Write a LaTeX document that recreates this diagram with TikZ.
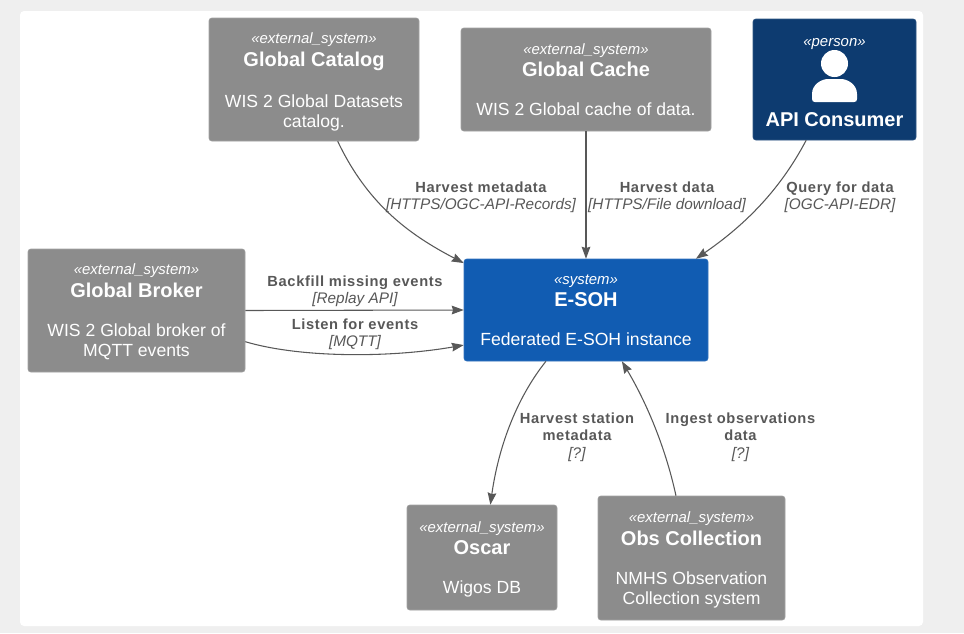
\documentclass[tikz,border=0pt]{standalone}
\usepackage{fontspec}
\setmainfont{Liberation Sans}
\usetikzlibrary{arrows.meta}

\definecolor{pagegray}{HTML}{EFEFEF}
\definecolor{extgray}{HTML}{8C8C8C}
\definecolor{sysblue}{HTML}{115CB2}
\definecolor{persblue}{HTML}{0D3B70}
\definecolor{relgray}{HTML}{585858}

\newcommand{\tagline}[2][0pt]{{\fontsize{11.2}{13}\selectfont\itshape\rule{0pt}{#1}«#2»}}
\newcommand{\boxtitle}[1]{{\fontsize{15}{17}\selectfont\bfseries #1}}
\newcommand{\boxdesc}[1]{{\fontsize{13.2}{15}\selectfont #1}}
\newcommand{\relname}[1]{{\fontsize{11}{13}\selectfont\bfseries\addfontfeature{LetterSpace=4.4} #1}}
\newcommand{\reltech}[1]{{\fontsize{11.5}{13}\selectfont\itshape [#1]}}

\tikzset{
  cbox/.style={rectangle, rounded corners=2pt, text=white, align=center, inner sep=0pt},
  extbox/.style={cbox, fill=extgray, draw=extgray!80!white, line width=0.4pt},
  sysbox/.style={cbox, fill=sysblue, draw=sysblue!85!white, line width=0.4pt},
  persbox/.style={cbox, fill=persblue, draw=persblue!85!white, line width=0.4pt},
  rel/.style={draw=relgray, line width=0.8pt, -{Stealth[inset=1pt,length=9pt,width=6.5pt]}},
  rellab/.style={text=relgray, align=center, inner sep=0pt}
}

\begin{document}
\begin{tikzpicture}[x=0.75pt, y=-0.75pt]
  \useasboundingbox (0,0) rectangle (964,633);
  \fill [pagegray] (0,0) rectangle (964,633);
  \fill [white, rounded corners=3pt] (20,11) rectangle (923,626);

  \node [extbox, minimum width=157.5pt, minimum height=92.25pt] (catalogN) at (314,79.5)
    {\tagline[12pt]{external\_system}\\[3pt]\boxtitle{Global Catalog}\\[17pt]\boxdesc{WIS 2 Global Datasets}\\[3pt]\boxdesc{catalog.}};
  \node [extbox, minimum width=187.5pt, minimum height=77.25pt] (cacheN) at (586,79.5)
    {\tagline{external\_system}\\[3pt]\boxtitle{Global Cache}\\[17pt]\boxdesc{WIS 2 Global cache of data.}};
  \node [persbox, minimum width=122.25pt, minimum height=90.75pt] (consumerN) at (834.5,79.5)
    {\tagline[10.3pt]{person}\\[46.5pt]\boxtitle{API Consumer}};
  \node [extbox, minimum width=162.75pt, minimum height=92.25pt] (brokerN) at (136.5,310.5)
    {\tagline[9.6pt]{external\_system}\\[3pt]\boxtitle{Global Broker}\\[17pt]\boxdesc{WIS 2 Global broker of}\\[3pt]\boxdesc{MQTT events}};
  \node [sysbox, minimum width=183pt, minimum height=76.5pt] (esohN) at (586,310)
    {\tagline{system}\\[3pt]\boxtitle{E-SOH}\\[17pt]\boxdesc{Federated E-SOH instance}};
  \node [extbox, minimum width=112.5pt, minimum height=78.75pt] (oscarN) at (482,557.5)
    {\tagline[10.3pt]{external\_system}\\[3pt]\boxtitle{Oscar}\\[17pt]\boxdesc{Wigos DB}};
  \node [extbox, minimum width=140.25pt, minimum height=93pt] (obsN) at (691.5,558)
    {\tagline[11.1pt]{external\_system}\\[3pt]\boxtitle{Obs Collection}\\[17pt]\boxdesc{NMHS Observation}\\[3pt]\boxdesc{Collection system}};

  % person icon
  \fill [white] (834.5,63.5) circle [radius=13.5];
  \fill [white] (815,102) .. controls (813,102) and (812,101) .. (812,99) -- (812,94)
    .. controls (812,84) and (822,79) .. (828,79) -- (841,79)
    .. controls (847,79) and (857,84) .. (857,94) -- (857,99)
    .. controls (857,101) and (856,102) .. (854,102) -- cycle;

  \node [rellab] (metaL)   at (481,197)   {\relname{Harvest metadata}\\[1pt]\reltech{HTTPS/OGC-API-Records}};
  \node [rellab] (dataL)   at (667,197)   {\relname{Harvest data}\\[1pt]\reltech{HTTPS/File download}};
  \node [rellab] (queryL)  at (840,197)   {\relname{Query for data}\\[1pt]\reltech{OGC-API-EDR}};
  \node [rellab] (backL)   at (355,291)   {\relname{Backfill missing events}\\[1pt]\reltech{Replay API}};
  \node [rellab] (listenL) at (355,334)   {\relname{Listen for events}\\[1pt]\reltech{MQTT}};
  \node [rellab] (statL)   at (577,437)   {\relname{Harvest station}\\[1pt]\relname{metadata}\\[1pt]\reltech{?}};
  \node [rellab] (ingestL) at (740.5,437) {\relname{Ingest observations}\\[1pt]\relname{data}\\[1pt]\reltech{?}};

  \draw [rel] (catalogN.-69.5) .. controls (368,205) and (410,235) .. (esohN.159.3);
  \draw [rel] (cacheN.south) -- (esohN.north);
  \draw [rel] (consumerN.-115) .. controls (780,190) and (745,225) .. (esohN.25);
  \draw [rel] (brokerN.east) -- (esohN.west);
  \draw [rel] (brokerN.-16.2) .. controls (300,358) and (390,358) .. (esohN.-164.9);
  \draw [rel] (esohN.-128.1) .. controls (515,400) and (498,450) .. (oscarN.81);
  \draw [rel] (obsN.104) .. controls (665,445) and (645,400) .. (esohN.-55.5);
\end{tikzpicture}
\end{document}
